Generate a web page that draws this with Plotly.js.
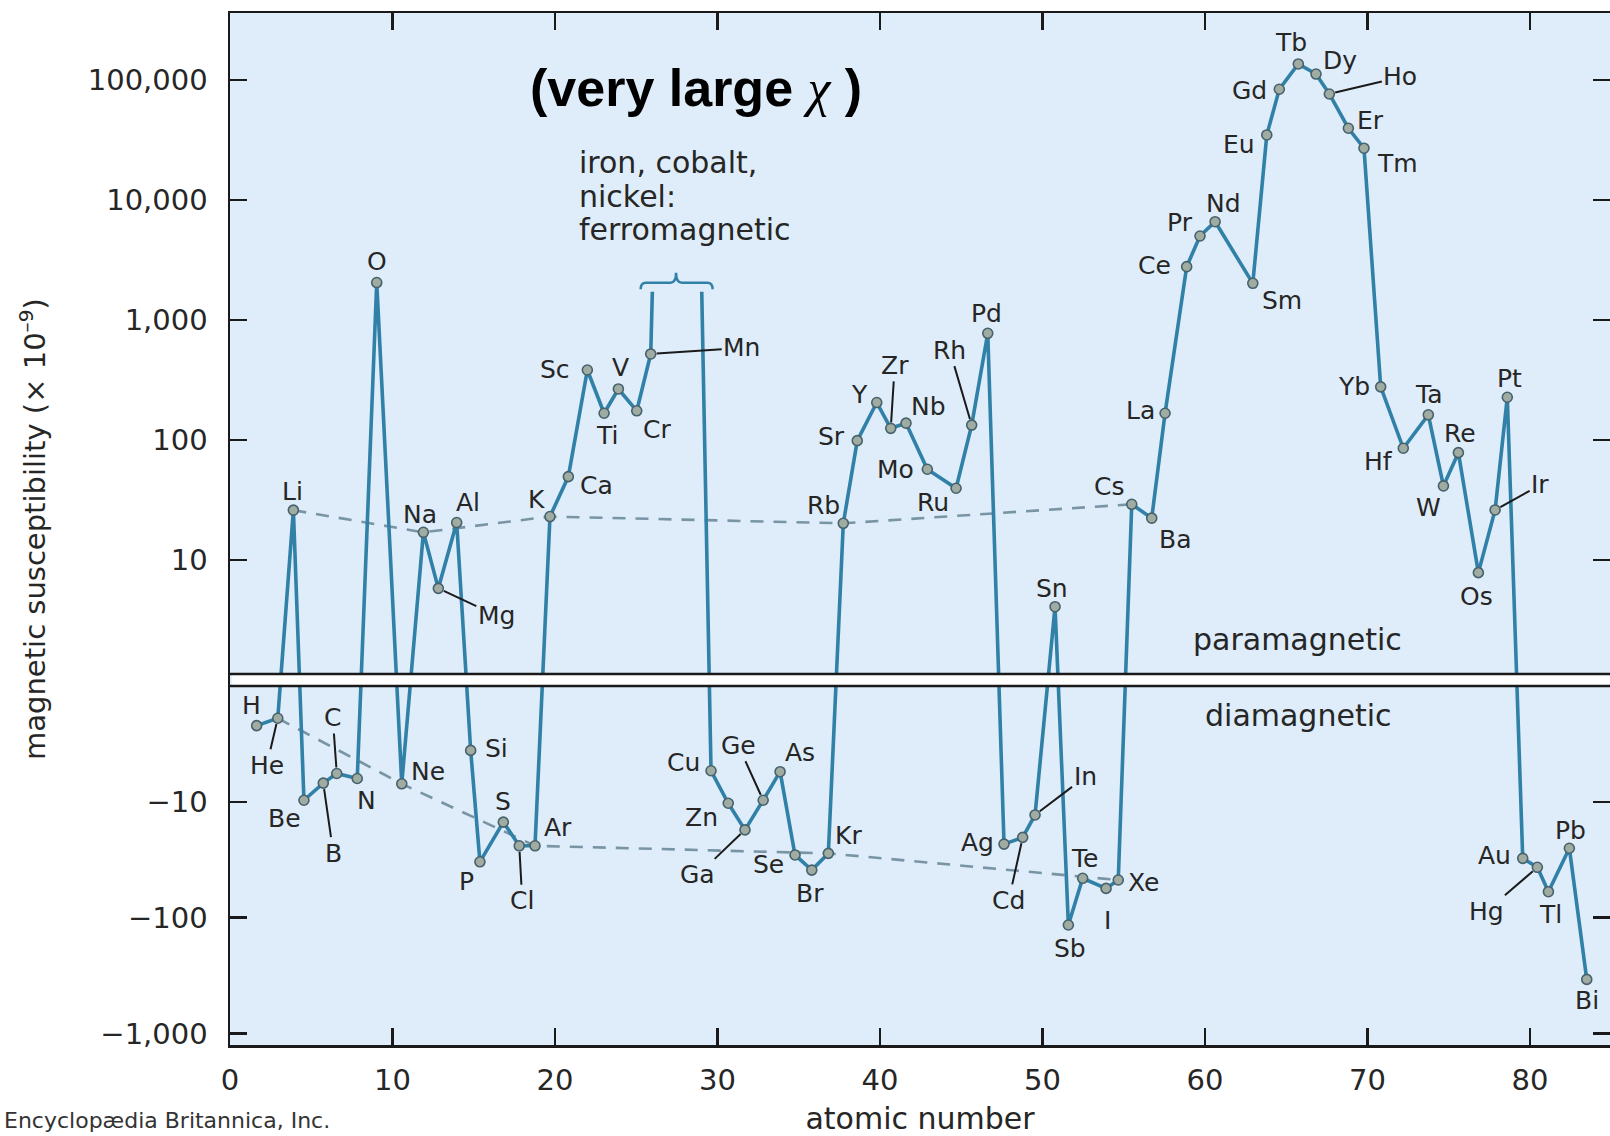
<!DOCTYPE html>
<html>
<head>
<meta charset="utf-8">
<script src="https://cdn.plot.ly/plotly-3.0.1.min.js"></script>
<style>html,body{margin:0;padding:0;background:#fff;}#chart{width:1610px;height:1136px;}</style>
</head>
<body>
<div id="chart"></div>
<script>
// ---- data ----
const elements = ['H','He','Li','Be','B','C','N','O','Ne','Na','Mg','Al','Si','P','S','Cl','Ar','K','Ca','Sc','Ti','V','Cr','Mn','Cu','Zn','Ga','Ge','As','Se','Br','Kr','Rb','Sr','Y','Zr','Nb','Mo','Ru','Rh','Pd','Ag','Cd','In','Sn','Sb','Te','I','Xe','Cs','Ba','La','Ce','Pr','Nd','Sm','Eu','Gd','Tb','Dy','Ho','Er','Tm','Yb','Hf','Ta','W','Re','Os','Ir','Pt','Au','Hg','Tl','Pb','Bi'];
const atomicPos = [1.64,2.94,3.90,4.55,5.74,6.57,7.83,9.03,10.57,11.90,12.82,13.95,14.81,15.38,16.82,17.80,18.77,19.69,20.82,21.99,23.02,23.90,25.03,25.89,29.60,30.66,31.69,32.81,33.85,34.77,35.80,36.82,37.74,38.60,39.80,40.66,41.60,42.91,44.68,45.64,46.63,47.63,48.78,49.54,50.77,51.59,52.47,53.91,54.66,55.49,56.72,57.54,58.87,59.69,60.62,62.94,63.80,64.57,65.74,66.83,67.65,68.82,69.78,70.81,72.20,73.74,74.67,75.59,76.82,77.85,78.60,79.55,80.45,81.13,82.42,83.49];
const chi = [-2.2,-1.9,26,-9.7,-6.9,-5.7,-6.3,2050,-7.0,17,5.8,20.5,-3.6,-33,-15,-24,-24,23,49.5,383,167,266,175,521,-5.4,-10.3,-17.5,-9.7,-5.5,-28.8,-38.9,-27.9,20.2,98.7,205,125,138,57,39.6,133,774,-23.2,-20.3,-13.0,4.08,-116,-45.8,-56,-47.4,29.1,22.3,167,2780,5010,6590,2020,34800,83650,136000,112000,76400,39600,27000,277,85.3,162,41.4,78.4,7.84,26.1,227,-30.8,-36.8,-59.8,-25.2,-342];
// Fe, Co, Ni are off scale: the curve is cut at these two points
const ferroCutPos = [25.99, 29.03];
const ferroCutChi = [1720, 1720];
const alkaliMetals = ['Li','Na','K','Rb','Cs'];
const nobleGases = ['He','Ne','Ar','Kr','Xe'];
const yTickValues = [100000, 10000, 1000, 100, 10, -10, -100, -1000];
const yTickLabels = ['100,000','10,000','1,000','100','10','\u221210','\u2212100','\u22121,000'];
const xTickValues = [0,10,20,30,40,50,60,70,80];

// ---- broken log scale: paramagnetic (top) / diamagnetic (bottom) ----
const GAP = 0.05, K = 0.965;
function yT(v){ return v > 0 ? Math.log10(v) : -GAP - K*Math.log10(-v); }

// ---- label placement (style) ----
const labelStyle = {
 H:[-5,-20], He:{ax:-11,ay:47}, Li:[-1,-19], Be:[-19,18], B:{ax:10,ay:70}, C:{ax:-4,ay:-56}, N:[9,22], O:[0,-21], Ne:[26,-12], Na:[-3,-18], Mg:{ax:58,ay:27}, Al:[11,-20], Si:[26,-2], P:[-13,20], S:[0,-21], Cl:{ax:3,ay:55}, Ar:[23,-18], K:[-13,-17], Ca:[28,9], Sc:[-32,0], Ti:[3,22], V:[2,-21], Cr:[20,19], Mn:{ax:91,ay:-6}, Cu:[-28,-8], Zn:[-27,14], Ga:{ax:-47,ay:45}, Ge:{ax:-25,ay:-55}, As:[20,-19], Se:[-27,10], Br:[-2,23], Kr:[20,-18], Rb:[-20,-18], Sr:[-26,-4], Y:[-17,-8], Zr:{ax:4,ay:-63}, Nb:[22,-17], Mo:[-32,0], Ru:[-23,14], Rh:{ax:-22,ay:-75}, Pd:[-1,-20], Ag:[-27,-2], Cd:{ax:-14,ay:63}, In:{ax:50,ay:-38}, Sn:[-3,-18], Sb:[2,23], Te:[2,-20], I:[1,32], Xe:[25,2], Cs:[-23,-18], Ba:[23,21], La:[-25,-3], Ce:[-32,-1], Pr:[-20,-13], Nd:[8,-18], Sm:[29,17], Eu:[-28,10], Gd:[-30,1], Tb:[-7,-21], Dy:[24,-14], Ho:{ax:71,ay:-17}, Er:[22,-8], Tm:[34,15], Yb:[-27,0], Hf:[-25,13], Ta:[0,-20], W:[-15,22], Re:[2,-19], Os:[-2,24], Ir:{ax:45,ay:-25}, Pt:[2,-19], Au:[-28,-3], Hg:{ax:-51,ay:44}, Tl:[2,23], Pb:[1,-18], Bi:[0,21]
};

const FONT = 'DejaVu Sans, Verdana, sans-serif';
const LINE_COLOR = 'rgb(48,128,168)';
const TEXT_COLOR = '#262626';

// main curve, broken at the ferromagnetic elements
const iMn = elements.indexOf('Mn');
const lineX = [], lineY = [];
for (let i = 0; i <= iMn; i++){ lineX.push(atomicPos[i]); lineY.push(yT(chi[i])); }
lineX.push(ferroCutPos[0]); lineY.push(yT(ferroCutChi[0]));
lineX.push(null); lineY.push(null);
lineX.push(ferroCutPos[1]); lineY.push(yT(ferroCutChi[1]));
for (let i = iMn+1; i < elements.length; i++){ lineX.push(atomicPos[i]); lineY.push(yT(chi[i])); }

function pick(list){
  const idx = list.map(e => elements.indexOf(e));
  return {x: idx.map(i => atomicPos[i]), y: idx.map(i => yT(chi[i]))};
}
const alk = pick(alkaliMetals), nob = pick(nobleGases);
const dashStyle = {color:'rgb(120,148,165)', width:2.6, dash:'13px,10px'};

const traces = [
  {x: alk.x, y: alk.y, mode:'lines', line: dashStyle, hoverinfo:'skip'},
  {x: nob.x, y: nob.y, mode:'lines', line: dashStyle, hoverinfo:'skip'},
  {x: lineX, y: lineY, mode:'lines', line:{color:LINE_COLOR, width:3.6}, connectgaps:false, hoverinfo:'skip'},
  {x: atomicPos, y: chi.map(yT), mode:'markers', text: elements,
   marker:{size:10, color:'rgb(160,172,162)', line:{color:'rgb(70,98,108)', width:1.6}}}
];

const annotations = [];
elements.forEach((el, i) => {
  const s = labelStyle[el];
  const base = {x: atomicPos[i], y: yT(chi[i]), xref:'x', yref:'y', text: el,
                font:{family:FONT, size:25, color:TEXT_COLOR}};
  if (Array.isArray(s)) {
    annotations.push(Object.assign(base, {showarrow:false, xshift:s[0], yshift:-s[1]}));
  } else {
    annotations.push(Object.assign(base, {showarrow:true, ax:s.ax, ay:s.ay, arrowhead:0,
      arrowwidth:2, arrowcolor:'#1a1a1a', standoff:6}));
  }
});
annotations.push(
  {x:28.68, y:4.933, xref:'x', yref:'y', showarrow:false,
   text:'(very large <span style="font-family:Liberation Serif;font-style:italic;font-weight:normal">\u03c7</span> )',
   font:{family:'Liberation Sans, Arial, sans-serif', size:52, color:'#000', weight:'bold'}},
  {x:21.35, y:4.31, xref:'x', yref:'y', xanchor:'left', showarrow:false, text:'iron, cobalt,', font:{family:FONT, size:30, color:TEXT_COLOR}},
  {x:21.35, y:4.03, xref:'x', yref:'y', xanchor:'left', showarrow:false, text:'nickel:', font:{family:FONT, size:30, color:TEXT_COLOR}},
  {x:21.35, y:3.75, xref:'x', yref:'y', xanchor:'left', showarrow:false, text:'ferromagnetic', font:{family:FONT, size:30, color:TEXT_COLOR}},
  {x:65.66, y:0.34, xref:'x', yref:'y', showarrow:false, text:'paramagnetic', font:{family:FONT, size:30, color:TEXT_COLOR}},
  {x:65.70, y:-0.30, xref:'x', yref:'y', showarrow:false, text:'diamagnetic', font:{family:FONT, size:30, color:TEXT_COLOR}},
  {x:-0.1652, y:-0.0872, xref:'paper', yref:'paper', xanchor:'left', yanchor:'bottom', showarrow:false,
   text:'Encyclop\u00e6dia Britannica, Inc.', font:{family:FONT, size:22, color:'#333'}}
);

const shapes = [
  {type:'rect', xref:'paper', x0:0.0012, x1:1, yref:'y', y0:-GAP, y1:GAP, fillcolor:'#ffffff',
   line:{width:0}, layer:'above'},
  {type:'line', xref:'paper', x0:0, x1:1, yref:'y', y0:GAP, y1:GAP, line:{color:'#1a1a1a', width:2.5}, layer:'above'},
  {type:'line', xref:'paper', x0:0, x1:1, yref:'y', y0:-GAP, y1:-GAP, line:{color:'#1a1a1a', width:2.5}, layer:'above'},
  {type:'path', xref:'x', yref:'y', layer:'above', line:{color:LINE_COLOR, width:2.5},
   path:'M 25.27,3.256 Q 25.27,3.311 25.6,3.311 L 27.1,3.311 Q 27.45,3.311 27.45,3.394 Q 27.45,3.311 27.8,3.311 L 29.37,3.311 Q 29.70,3.311 29.70,3.256'}
];

const axisCommon = {showgrid:false, zeroline:false, showline:true, linecolor:'#1a1a1a', linewidth:2.5,
  ticks:'inside', ticklen:17, tickwidth:2.5, tickcolor:'#1a1a1a', mirror:'ticks',
  tickfont:{family:FONT, size:29, color:TEXT_COLOR}};

const layout = {
  width:1610, height:1136,
  margin:{l:230, r:0, t:13, b:91},
  paper_bgcolor:'#ffffff', plot_bgcolor:'#deedf9',
  showlegend:false,
  font:{family:FONT, color:TEXT_COLOR},
  xaxis: Object.assign({}, axisCommon, {range:[0, 84.92], tickmode:'array', tickvals:xTickValues,
    ticktext: xTickValues.map(String), ticklabelstandoff:8,
    title:{text:'atomic number', font:{family:FONT, size:30, color:TEXT_COLOR}, standoff:12}}),
  yaxis: Object.assign({}, axisCommon, {range:[-3.042, 5.558], tickmode:'array',
    tickvals: yTickValues.map(yT), ticktext: yTickLabels, ticklabelstandoff:14,
    title:{text:'magnetic susceptibility (\u00d7 10<sup>\u20139</sup>)', font:{family:FONT, size:29, color:TEXT_COLOR}, standoff:34}}),
  annotations: annotations,
  shapes: shapes
};

Plotly.newPlot('chart', traces, layout, {staticPlot:true, displayModeBar:false});
</script>
</body>
</html>
